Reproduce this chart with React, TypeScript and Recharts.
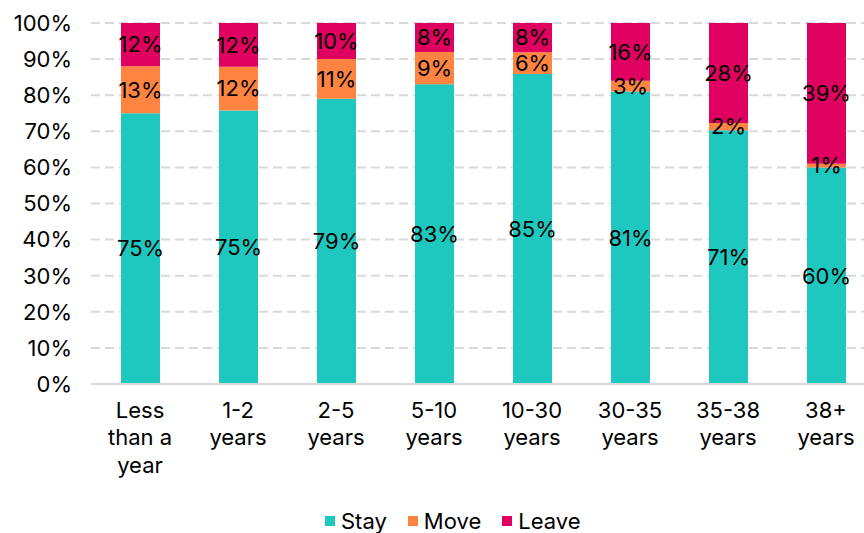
import React from "react";
import {
  BarChart,
  Bar,
  XAxis,
  YAxis,
  CartesianGrid,
  Legend,
  LabelList,
} from "recharts";

// Tenure bands (line breaks mark where each axis label wraps)
const categories = [
  "Less\nthan a\nyear",
  "1-2\nyears",
  "2-5\nyears",
  "5-10\nyears",
  "10-30\nyears",
  "30-35\nyears",
  "35-38\nyears",
  "38+\nyears",
];

// Share of respondents in each band (%)
const stay = [75, 75, 79, 83, 85, 81, 71, 60];
const move = [13, 12, 11, 9, 6, 3, 2, 1];
const leave = [12, 12, 10, 8, 8, 16, 28, 39];

const yTicks = [0, 0.1, 0.2, 0.3, 0.4, 0.5, 0.6, 0.7, 0.8, 0.9, 1];

const series = [
  { key: "stay", name: "Stay", color: "#1FC8BE" },
  { key: "move", name: "Move", color: "#FF8442" },
  { key: "leave", name: "Leave", color: "#E0005F" },
];

const data = categories.map((c, i) => ({
  category: c,
  stay: stay[i],
  move: move[i],
  leave: leave[i],
}));

const FONT = "Inter, 'DejaVu Sans', sans-serif";
const FONT_SIZE = 22;
const LINE_HEIGHT = 27.3;

const CategoryTick = (props: any) => {
  const { x, y, payload } = props;
  const lines: string[] = String(payload.value).split("\n");
  return (
    <text
      x={x}
      y={y + 26}
      textAnchor="middle"
      fill="#000"
      fontSize={FONT_SIZE}
      fontFamily={FONT}
    >
      {lines.map((line, i) => (
        <tspan key={i} x={x} dy={i === 0 ? 0 : LINE_HEIGHT}>
          {line}
        </tspan>
      ))}
    </text>
  );
};

const LegendContent = () => (
  <div
    style={{
      display: "flex",
      alignItems: "center",
      fontFamily: FONT,
      fontSize: FONT_SIZE,
      color: "#000",
      lineHeight: "30px",
      height: 36,
    }}
  >
    {series.map((s) => (
      <div
        key={s.key}
        style={{ display: "flex", alignItems: "center", marginRight: 21 }}
      >
        <span
          style={{
            display: "inline-block",
            width: 10,
            height: 10,
            background: s.color,
            marginRight: 6,
          }}
        />
        <span>{s.name}</span>
      </div>
    ))}
  </div>
);

export default function App() {
  return (
    <div
      style={{
        position: "absolute",
        left: 0,
        top: 0,
        width: 864,
        height: 533,
        overflow: "hidden",
        background: "#fff",
      }}
    >
      <BarChart
        width={880}
        height={533}
        data={data}
        stackOffset="expand"
        margin={{ top: 23, right: 5, bottom: 0, left: 0 }}
        barSize={39}
      >
        <CartesianGrid
          vertical={false}
          stroke="#D9D9D9"
          strokeWidth={2}
          strokeDasharray="9 5"
        />
        <XAxis
          dataKey="category"
          tick={<CategoryTick />}
          tickLine={false}
          axisLine={{ stroke: "#D9D9D9", strokeWidth: 2 }}
          interval={0}
          height={113}
        />
        <YAxis
          width={91}
          domain={[0, 1]}
          ticks={yTicks}
          tickFormatter={(v: number) => `${Math.round(v * 100)}%`}
          tickLine={false}
          axisLine={false}
          tickSize={0}
          tickMargin={19}
          tick={{ fill: "#000", fontSize: FONT_SIZE, fontFamily: FONT }}
        />
        <Legend
          verticalAlign="bottom"
          content={<LegendContent />}
          wrapperStyle={{ left: 325, top: 503, bottom: "auto", width: "auto", height: 36 }}
        />
        {series.map((s) => (
          <Bar
            key={s.key}
            dataKey={s.key}
            name={s.name}
            stackId="a"
            fill={s.color}
            isAnimationActive={false}
          >
            <LabelList
              dataKey={s.key}
              position="center"
              fill="#000"
              fontSize={FONT_SIZE}
              fontFamily={FONT}
              formatter={(v: any) => `${v}%`}
            />
          </Bar>
        ))}
      </BarChart>
    </div>
  );
}
